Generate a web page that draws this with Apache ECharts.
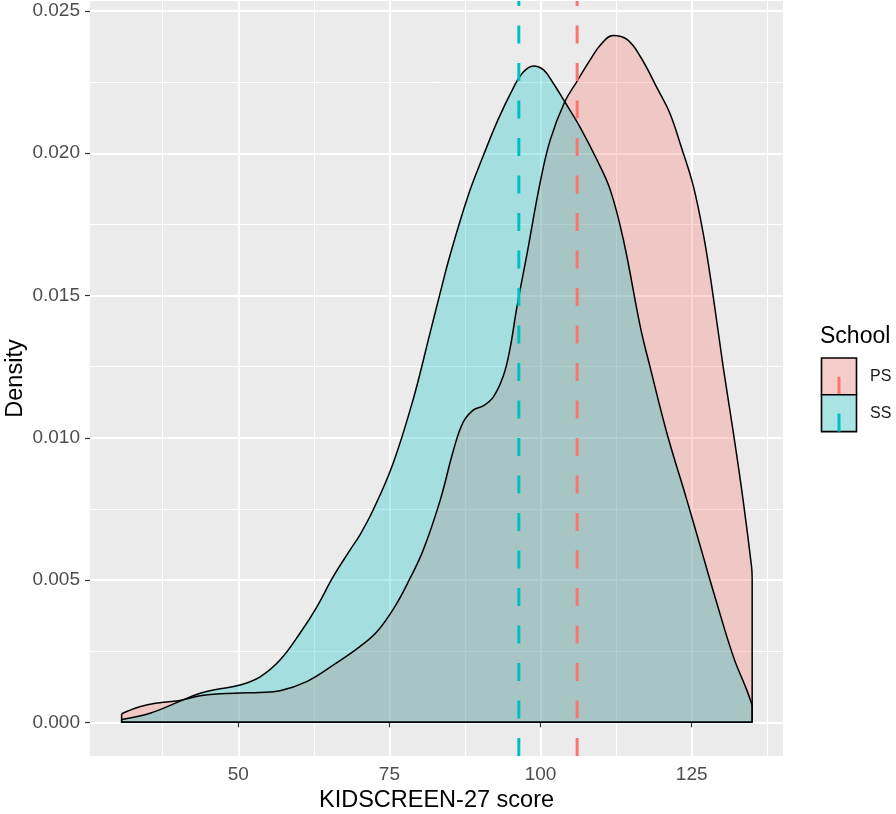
<!DOCTYPE html>
<html><head><meta charset="utf-8">
<script src="https://cdn.jsdelivr.net/npm/echarts@6/dist/echarts.min.js"></script>
<style>html,body{margin:0;padding:0;background:#fff;}#c{width:896px;height:814px;}</style>
</head><body><div id="c"></div>
<script>
// ---- data ----
const groups = ['PS', 'SS'];
const groupColors = ['#F8766D', '#00BFC4'];
const psX = [30.7, 33.7, 37.0, 40.1, 43.7, 47.0, 50.3, 53.5, 56.9, 61.3, 65.7, 70.1, 73.0, 76.0, 78.5, 80.6, 83.4, 85.6, 87.2, 88.9, 90.5, 92.2, 93.8, 94.9, 96.1, 97.7, 99.9, 101.6, 104.0, 106.0, 108.2, 109.8, 112.0, 114.3, 116.5, 119.5, 121.4, 123.3, 125.3, 127.0, 128.4, 130.2, 131.9, 133.5, 134.9, 135.0];
const psY = [0.0003, 0.00055, 0.00069, 0.00076, 0.00093, 0.00100, 0.00103, 0.00105, 0.00111, 0.00143, 0.00201, 0.00266, 0.0032, 0.0041, 0.0051, 0.00606, 0.00781, 0.00957, 0.01055, 0.01098, 0.01112, 0.01144, 0.01215, 0.01308, 0.01461, 0.0164, 0.01894, 0.02047, 0.02181, 0.02252, 0.02328, 0.02378, 0.02414, 0.02400, 0.0234, 0.0222, 0.0214, 0.0202, 0.01882, 0.01707, 0.0152, 0.0125, 0.01016, 0.00781, 0.00547, 0.0051];
const ssX = [30.7, 35.4, 40.1, 43.7, 47.0, 50.3, 53.6, 56.9, 60.2, 63.0, 65.7, 68.5, 70.1, 72.3, 75.6, 78.9, 81.7, 83.4, 85.0, 88.0, 90.5, 93.0, 95.5, 97.1, 98.8, 100.5, 102.1, 104.0, 106.5, 109.3, 111.5, 113.7, 116.5, 118.1, 120.9, 124.2, 126.4, 129.0, 131.9, 134.1, 135.0];
const ssY = [0.0001, 0.00032, 0.00072, 0.00102, 0.00118, 0.00131, 0.0016, 0.00219, 0.00313, 0.00406, 0.00512, 0.00606, 0.00658, 0.00746, 0.0091, 0.01133, 0.01367, 0.0151, 0.0164, 0.0185, 0.0199, 0.0212, 0.0223, 0.02285, 0.02307, 0.02293, 0.02246, 0.02181, 0.02093, 0.01978, 0.01873, 0.01696, 0.0139, 0.0125, 0.01016, 0.00781, 0.0062, 0.0043, 0.0023, 0.00114, 0.0006];
const means = [106.05, 96.4];
const xTicks = [50, 75, 100, 125];
const yTicks = [0, 0.005, 0.010, 0.015, 0.020, 0.025];
const xMinor = [37.5, 62.5, 87.5, 112.5, 137.5];
const yMinor = [0.0025, 0.0075, 0.0125, 0.0175, 0.0225];
const xTitle = 'KIDSCREEN-27 score';
const yTitle = 'Density';
const legendTitle = 'School';

// ---- layout / style ----
const FONT = '"Liberation Sans", Arial, sans-serif';
const X_MIN = 25.47, X_MAX = 140.1, Y_MIN = -0.001184, Y_MAX = 0.025351;
function rgba(hex, a) {
  const n = parseInt(hex.slice(1), 16);
  return `rgba(${n >> 16},${(n >> 8) & 255},${n & 255},${a})`;
}
const ALPHA = 0.3;
const DASH = [18, 19.5];

const xs = [psX, ssX], ys = [psY, ssY];
const series = [];
groups.forEach((g, i) => {
  const X = xs[i], Y = ys[i];
  const pts = X.map((x, k) => [x, Y[k]]);
  series.push({
    name: g, type: 'line', data: pts, smooth: 0.4,
    symbol: 'none', silent: true,
    lineStyle: { color: '#000', width: 1.5 },
    areaStyle: { color: rgba(groupColors[i], ALPHA), opacity: 1 }
  });
  const n = X.length - 1;
  series.push({
    name: g + '-outline', type: 'line', symbol: 'none', silent: true,
    data: [[X[0], Y[0]], [X[0], 0], [X[n], 0], [X[n], Y[n]]],
    lineStyle: { color: '#000', width: 1.5 }
  });
});
means.forEach((m, i) => {
  series.push({
    name: groups[i] + '-mean', type: 'line', symbol: 'none', silent: true,
    data: [[m, Y_MIN], [m, Y_MAX]],
    lineStyle: { color: groupColors[i], width: 3, type: DASH }
  });
});

// legend built with graphic elements
const graphic = [{
  type: 'text', x: 820, y: 336.5,
  style: { text: legendTitle, fontSize: 23, fontFamily: FONT, fill: '#000', verticalAlign: 'middle' }
}, {
  type: 'text', x: 16, y: 378.5, rotation: Math.PI / 2,
  style: { text: yTitle, fontSize: 23.5, fontFamily: FONT, fill: '#000', align: 'center', verticalAlign: 'middle' }
}];
const KX = 821.5, KY = 358, KW = 35, KH = 36.8;
groups.forEach((g, i) => {
  const y0 = KY + KH * i;
  graphic.push({ type: 'rect', shape: { x: KX, y: y0, width: KW, height: KH }, style: { fill: '#F2F2F2' } });
  graphic.push({ type: 'rect', shape: { x: KX, y: y0, width: KW, height: KH }, style: { fill: rgba(groupColors[i], ALPHA), stroke: '#000', lineWidth: 1.6 } });
  graphic.push({ type: 'line', shape: { x1: KX + KW / 2, y1: y0 + KH, x2: KX + KW / 2, y2: y0 }, style: { stroke: groupColors[i], lineWidth: 3, lineDash: DASH } });
  graphic.push({ type: 'text', x: 870, y: y0 + KH / 2, style: { text: g, fontSize: 16, fontFamily: FONT, fill: '#1a1a1a', verticalAlign: 'middle' } });
});

const chart = echarts.init(document.getElementById('c'), null, { renderer: 'canvas' });
chart.setOption({
  animation: false,
  backgroundColor: '#fff',
  textStyle: { fontFamily: FONT },
  grid: { left: 90, right: 113, top: 1, bottom: 58, show: true, backgroundColor: '#EBEBEB', borderWidth: 0, containLabel: false, outerBoundsMode: 'none' },
  xAxis: [{
    type: 'value', min: X_MIN, max: X_MAX,
    axisLine: { show: false },
    axisTick: { show: true, length: 5, lineStyle: { color: '#333', width: 1.2 }, customValues: xTicks },
    axisLabel: { customValues: xTicks, color: '#4D4D4D', fontSize: 19, margin: 9, fontFamily: FONT },
    splitLine: { show: true, lineStyle: { color: '#fff', width: 2 } },
    name: xTitle, nameLocation: 'middle', nameGap: 31,
    nameTextStyle: { fontSize: 23.5, color: '#000', fontFamily: FONT }
  }, {
    type: 'value', min: X_MIN, max: X_MAX, position: 'bottom', gridIndex: 0,
    axisLine: { show: false },
    axisTick: { show: false, customValues: xMinor },
    axisLabel: { show: false, customValues: xMinor },
    splitLine: { show: true, lineStyle: { color: '#fff', width: 1 } }
  }],
  yAxis: [{
    type: 'value', min: Y_MIN, max: Y_MAX,
    axisLine: { show: false },
    axisTick: { show: true, length: 5, lineStyle: { color: '#333', width: 1.2 }, customValues: yTicks },
    axisLabel: { customValues: yTicks, color: '#4D4D4D', fontSize: 19, margin: 10, fontFamily: FONT, formatter: v => v.toFixed(3) },
    splitLine: { show: true, lineStyle: { color: '#fff', width: 2 } }
  }, {
    type: 'value', min: Y_MIN, max: Y_MAX, position: 'left', gridIndex: 0,
    axisLine: { show: false },
    axisTick: { show: false, customValues: yMinor },
    axisLabel: { show: false, customValues: yMinor },
    splitLine: { show: true, lineStyle: { color: '#fff', width: 1 } }
  }],
  series: series,
  graphic: graphic
});
</script>
</body></html>
